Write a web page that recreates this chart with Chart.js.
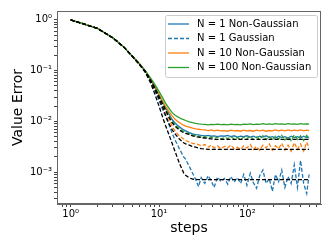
<!DOCTYPE html>
<html>
<head>
<meta charset="utf-8">
<script src="https://cdn.jsdelivr.net/npm/chart.js@4.4.0/dist/chart.umd.min.js"></script>
<style>
  html, body { margin: 0; padding: 0; background: #fff; }
  #wrap { width: 332px; height: 249px; }
</style>
</head>
<body>
<div id="wrap"><canvas id="chart" width="332" height="249"></canvas></div>
<script>
// steps sampled along the x axis
const steps = [1, 2, 3, 4, 5, 6, 7, 8, 9, 10, 11, 12, 13, 14, 15, 16, 17, 18, 19, 20,
  22, 24, 26, 28, 30, 33, 36, 39, 42, 46, 50, 55, 60, 65, 71, 77, 84, 91, 99,
  108, 117, 127, 138, 150, 163, 177, 192, 208, 226, 245, 266, 289, 313, 340, 369, 400, 434, 470, 500];

// N = 1
const nonGauss1 = [1.0, 0.68, 0.44, 0.29, 0.19, 0.135, 0.097, 0.067, 0.047, 0.033, 0.024, 0.018, 0.014, 0.011, 0.0095, 0.0085, 0.0078, 0.0072, 0.0068, 0.0065,
  0.006, 0.0057, 0.0055, 0.0054, 0.0053,
  0.0052, 0.0053, 0.0051, 0.0052, 0.005, 0.0052,
  0.0051, 0.0053, 0.005, 0.0052, 0.0049, 0.0051, 0.005, 0.0052,
  0.0049, 0.0051, 0.0048, 0.0051, 0.0049, 0.0052, 0.0048, 0.005, 0.0047, 0.0051, 0.0048, 0.005, 0.0047, 0.0051, 0.0048, 0.005, 0.0047, 0.0051, 0.0048, 0.0049];
const gauss1 = [1.0, 0.68, 0.44, 0.29, 0.19, 0.134, 0.094, 0.063, 0.04, 0.026, 0.017, 0.012, 0.0085, 0.006, 0.0045, 0.0036, 0.0029, 0.0024, 0.002, 0.0018,
  0.0013, 0.00095, 0.00072, 0.00052, 0.00078,
  0.0006, 0.00085, 0.00068, 0.0005, 0.0008, 0.00066,
  0.00075, 0.00058, 0.00082, 0.00064, 0.00078, 0.0006, 0.0009, 0.00055,
  0.00095, 0.00062, 0.00048, 0.00085, 0.0011, 0.0006, 0.00075, 0.00042, 0.0009, 0.00065, 0.0011, 0.0005, 0.00082, 0.0006, 0.0014, 0.0005, 0.0017, 0.0006, 0.00038, 0.0009];
const theory1 = [1.0, 0.68, 0.44, 0.29, 0.19, 0.132, 0.092, 0.058, 0.034, 0.02, 0.012, 0.0078, 0.0054, 0.0038, 0.0027, 0.002, 0.0015, 0.0012, 0.00097, 0.00087,
  0.00077, 0.00073, 0.00072, 0.00071, 0.00071,
  0.00071, 0.00071, 0.00071, 0.00071, 0.00071, 0.00071,
  0.00071, 0.00071, 0.00071, 0.00071, 0.00071, 0.00071, 0.00071, 0.00071,
  0.00071, 0.00071, 0.00071, 0.00071, 0.00071, 0.00071, 0.00071, 0.00071, 0.00071, 0.00071, 0.00071, 0.00071, 0.00071, 0.00071, 0.00071, 0.00071, 0.00071, 0.00071, 0.00071, 0.00071];

// N = 10
const nonGauss10 = [1.0, 0.68, 0.44, 0.29, 0.19, 0.136, 0.098, 0.07, 0.049, 0.034, 0.025, 0.019, 0.0155, 0.013, 0.0112, 0.0102, 0.0095, 0.0089, 0.0084, 0.0081,
  0.0077, 0.0074, 0.0071, 0.007, 0.0069,
  0.0068, 0.0066, 0.0068, 0.0065, 0.0067, 0.0065,
  0.0066, 0.0064, 0.0067, 0.0065, 0.0066, 0.0064, 0.0067, 0.0065,
  0.0066, 0.0064, 0.0067, 0.0065, 0.0067, 0.0064, 0.0066, 0.0065, 0.0068, 0.0065, 0.0067, 0.0065, 0.0068, 0.0065, 0.0067, 0.0066, 0.0068, 0.0065, 0.0067, 0.0066];
const gauss10 = [1.0, 0.68, 0.44, 0.29, 0.19, 0.134, 0.096, 0.065, 0.044, 0.03, 0.021, 0.015, 0.011, 0.0082, 0.0066, 0.0058, 0.0052, 0.0048, 0.0045, 0.0042,
  0.0039, 0.0037, 0.0036, 0.0035, 0.0033,
  0.0035, 0.0031, 0.0034, 0.003, 0.0033, 0.0029,
  0.0032, 0.003, 0.0034, 0.0029, 0.0031, 0.0028, 0.0033, 0.003,
  0.0035, 0.0028, 0.0032, 0.0027, 0.0034, 0.003, 0.0036, 0.0027, 0.0033, 0.0029, 0.0037, 0.0027, 0.0034, 0.0026, 0.0038, 0.0028, 0.0036, 0.0026, 0.0039, 0.003];
const theory10 = [1.0, 0.68, 0.44, 0.29, 0.19, 0.133, 0.095, 0.064, 0.042, 0.028, 0.019, 0.0125, 0.009, 0.007, 0.0058, 0.0051, 0.0045, 0.0041, 0.0038, 0.0036,
  0.0034, 0.0032, 0.0031, 0.003, 0.0029,
  0.00288, 0.0028, 0.0028, 0.0028, 0.0028, 0.0028,
  0.0028, 0.0028, 0.0028, 0.0028, 0.0028, 0.0028, 0.0028, 0.0028,
  0.0028, 0.0028, 0.0028, 0.0028, 0.0028, 0.0028, 0.0028, 0.0028, 0.0028, 0.0028, 0.0028, 0.0028, 0.0028, 0.0028, 0.0028, 0.0028, 0.0028, 0.0028, 0.0028, 0.0028];

// N = 100
const nonGauss100 = [1.0, 0.68, 0.44, 0.29, 0.19, 0.136, 0.099, 0.072, 0.053, 0.039, 0.029, 0.022, 0.018, 0.015, 0.0135, 0.0125, 0.0118, 0.0112, 0.0108, 0.0104,
  0.0098, 0.0094, 0.0091, 0.0089, 0.0088,
  0.0087, 0.0085, 0.0087, 0.0086, 0.0088, 0.0086,
  0.0087, 0.0085, 0.0088, 0.0086, 0.0087, 0.0085, 0.0088, 0.0087,
  0.0089, 0.0086, 0.0088, 0.0087, 0.009, 0.0087, 0.0089, 0.0087, 0.009, 0.0088, 0.0089, 0.0087, 0.009, 0.0088, 0.0089, 0.0087, 0.009, 0.0088, 0.0089, 0.0088];
const gauss100 = [1.0, 0.68, 0.44, 0.29, 0.19, 0.135, 0.097, 0.067, 0.046, 0.032, 0.023, 0.017, 0.013, 0.0102, 0.0088, 0.0079, 0.0072, 0.0067, 0.0063, 0.006,
  0.0057, 0.0054, 0.0052, 0.0051, 0.0049,
  0.005, 0.0047, 0.0049, 0.0046, 0.0049, 0.0045,
  0.0048, 0.0046, 0.005, 0.0045, 0.0048, 0.0044, 0.0049, 0.0046,
  0.0051, 0.0044, 0.0049, 0.0045, 0.0052, 0.0044, 0.005, 0.0043, 0.0051, 0.0045, 0.0053, 0.0043, 0.005, 0.0042, 0.0054, 0.0044, 0.0052, 0.0042, 0.0053, 0.0045];
const theory100 = [1.0, 0.68, 0.44, 0.29, 0.19, 0.134, 0.096, 0.066, 0.045, 0.031, 0.022, 0.016, 0.012, 0.0095, 0.0082, 0.0074, 0.0068, 0.0063, 0.006, 0.0058,
  0.0055, 0.0052, 0.005, 0.0049, 0.0048,
  0.0047, 0.0046, 0.0045, 0.0044, 0.0044, 0.0044,
  0.0044, 0.0044, 0.0044, 0.0044, 0.0044, 0.0044, 0.0044, 0.0044,
  0.0044, 0.0044, 0.0044, 0.0044, 0.0044, 0.0044, 0.0044, 0.0044, 0.0044, 0.0044, 0.0044, 0.0044, 0.0044, 0.0044, 0.0044, 0.0044, 0.0044, 0.0044, 0.0044, 0.0044];

// tick positions (matplotlib style log ticks, majors get a label)
const xTicks = [0.8, 0.9, 1, 2, 3, 4, 5, 6, 7, 8, 9, 10, 20, 30, 40, 50, 60, 70, 80, 90, 100, 200, 300, 400, 500, 600];
const yTicks = [0.0003, 0.0004, 0.0005, 0.0006, 0.0007, 0.0008, 0.0009, 0.001,
  0.002, 0.003, 0.004, 0.005, 0.006, 0.007, 0.008, 0.009, 0.01,
  0.02, 0.03, 0.04, 0.05, 0.06, 0.07, 0.08, 0.09, 0.1,
  0.2, 0.3, 0.4, 0.5, 0.6, 0.7, 0.8, 0.9, 1];

const BLUE = '#1f77b4', ORANGE = '#ff7f0e', GREEN = '#2ca02c';
const FONT = 'DejaVu Sans';
const supers = { '0': '\u2070', '1': '\u00b9', '2': '\u00b2', '3': '\u00b3', '-': '\u207b' };

function powerLabel(v) {
    const p = Math.log10(v);
    const r = Math.round(p);
    if (Math.abs(p - r) > 1e-6) return '';
    return '10' + String(r).split('').map(c => supers[c]).join('');
}

function pts(arr) {
    return steps.map((s, i) => ({ x: s, y: arr[i] }));
}

function line(label, arr, color, dashed, order, legendRank) {
    return {
        label: label,
        data: pts(arr),
        borderColor: color,
        borderWidth: 1.3,
        borderDash: dashed ? [4, 2] : [],
        pointRadius: 0,
        tension: 0,
        fill: false,
        order: order,
        legendRank: legendRank
    };
}

// top/right spines like matplotlib
const framePlugin = {
    id: 'frame',
    afterDatasetsDraw(chart) {
        const a = chart.chartArea, ctx = chart.ctx;
        ctx.save();
        ctx.strokeStyle = '#666';
        ctx.lineWidth = 1;
        ctx.strokeRect(a.left + 0.5, a.top + 0.5, a.right - a.left - 1, a.bottom - a.top - 1);
        ctx.restore();
    }
};

// legend box inside the plot, upper right
const boxLegend = {
    id: 'boxLegend',
    afterDraw(chart) {
        const ctx = chart.ctx;
        const items = chart.data.datasets.filter(d => d.legendRank > 0)
            .sort((a, b) => a.legendRank - b.legendRank);
        const bx = 165, by = 15, bw = 152, bh = 62;
        ctx.save();
        ctx.fillStyle = 'rgba(255,255,255,0.8)';
        ctx.strokeStyle = '#cccccc';
        ctx.lineWidth = 1;
        ctx.beginPath();
        ctx.roundRect(bx + 0.5, by + 0.5, bw, bh, 2);
        ctx.fill();
        ctx.stroke();
        ctx.font = '10px "' + FONT + '"';
        ctx.textBaseline = 'middle';
        ctx.fillStyle = '#000';
        items.forEach((d, i) => {
            const y = by + 9 + i * 14.5;
            ctx.strokeStyle = d.borderColor;
            ctx.lineWidth = d.borderWidth;
            ctx.setLineDash(d.borderDash);
            ctx.beginPath();
            ctx.moveTo(168, y);
            ctx.lineTo(189, y);
            ctx.stroke();
            ctx.setLineDash([]);
            ctx.fillText(d.label, 197, y);
        });
        ctx.restore();
    }
};

function chartInit() {
    const ctx = document.getElementById('chart').getContext('2d');
    new Chart(ctx, {
        type: 'line',
        data: {
            datasets: [
                line('N = 1 Non-Gaussian', nonGauss1, BLUE, false, 8, 1),
                line('N = 1 Gaussian', gauss1, BLUE, true, 7, 2),
                line('N = 1 theory', theory1, '#000', true, 2, 0),
                line('N = 10 Non-Gaussian', nonGauss10, ORANGE, false, 6, 3),
                line('N = 10 Gaussian', gauss10, ORANGE, true, 5, 0),
                line('N = 10 theory', theory10, '#000', true, 1, 0),
                line('N = 100 Non-Gaussian', nonGauss100, GREEN, false, 4, 4),
                line('N = 100 Gaussian', gauss100, GREEN, true, 3, 0),
                line('N = 100 theory', theory100, '#000', true, 0, 0)
            ]
        },
        options: {
            responsive: false,
            animation: false,
            devicePixelRatio: 1,
            layout: { padding: { top: 11, right: 11, left: 0, bottom: 0 } },
            plugins: { legend: { display: false }, tooltip: { enabled: false } },
            scales: {
                x: {
                    type: 'logarithmic',
                    min: 0.733,
                    max: 682,
                    afterBuildTicks: axis => { axis.ticks = xTicks.map(v => ({ value: v })); },
                    afterFit: axis => { axis.height = 45; },
                    ticks: {
                        callback: v => powerLabel(v),
                        autoSkip: false,
                        maxRotation: 0,
                        padding: 1,
                        color: '#000',
                        font: { family: FONT, size: 10 }
                    },
                    grid: { drawOnChartArea: false, tickLength: 3, tickColor: '#444' },
                    border: { color: '#666', width: 1 },
                    title: {
                        display: true,
                        text: 'steps',
                        color: '#000',
                        font: { family: FONT, size: 14 },
                        padding: { top: 0, bottom: 12 }
                    }
                },
                y: {
                    type: 'logarithmic',
                    min: 0.000236,
                    max: 1.49,
                    afterBuildTicks: axis => { axis.ticks = yTicks.map(v => ({ value: v })); },
                    afterFit: axis => { axis.width = 57; },
                    ticks: {
                        callback: v => powerLabel(v),
                        autoSkip: false,
                        padding: 2,
                        color: '#000',
                        font: { family: FONT, size: 10 }
                    },
                    grid: { drawOnChartArea: false, tickLength: 3, tickColor: '#444' },
                    border: { color: '#666', width: 1 },
                    title: {
                        display: true,
                        text: 'Value Error',
                        color: '#000',
                        font: { family: FONT, size: 14 },
                        padding: { top: 10, bottom: 0 }
                    }
                }
            }
        },
        plugins: [framePlugin, boxLegend]
    });
}

chartInit();
</script>
</body>
</html>
